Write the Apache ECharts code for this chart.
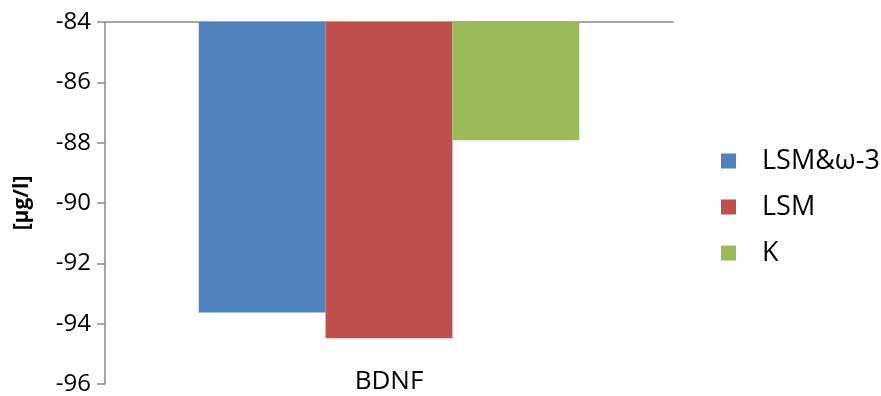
<!DOCTYPE html>
<html>
<head>
<meta charset="utf-8">
<script src="https://cdn.jsdelivr.net/npm/echarts@6/dist/echarts.min.js"></script>
<style>
  html, body { margin: 0; padding: 0; background: #fff; }
  #chart { width: 881px; height: 396px; }
</style>
</head>
<body>
<div id="chart"></div>
<script>
// BDNF change per group, in µg/l
var categories = ['BDNF'];
var seriesNames = ['LSM&ω-3', 'LSM', 'K'];
var seriesColors = ['#4F81BD', '#C0504D', '#9BBB59'];
var omega3Values = [-93.63];
var lsmValues = [-94.48];
var kValues = [-87.92];
var yTicks = { min: -96, max: -84, interval: 2 };

var seriesValues = [omega3Values, lsmValues, kValues];
var axisGray = '#898989';
var font = '"Open Sans", sans-serif';

var chart = echarts.init(document.getElementById('chart'), null, { renderer: 'canvas' });

chart.setOption({
  animation: false,
  backgroundColor: '#ffffff',
  grid: { left: 105, right: 208, top: 22, bottom: 8, containLabel: false },
  legend: {
    orient: 'vertical',
    left: 716,
    top: 141,
    itemWidth: 15,
    itemHeight: 15,
    itemGap: 16,
    icon: 'rect',
    data: seriesNames,
    textStyle: { fontFamily: font, fontSize: 27, color: '#000', lineHeight: 30, padding: [0, 0, 0, 21] }
  },
  xAxis: [
    {
      // category labels at the low end
      type: 'category',
      data: categories,
      position: 'bottom',
      offset: -15,
      axisLine: { show: false },
      axisTick: { show: false },
      axisLabel: { fontFamily: font, fontSize: 26, color: '#000', margin: 0 }
    },
    {
      // horizontal axis line crossing at the top value
      type: 'category',
      data: categories,
      position: 'top',
      axisLine: { show: true, lineStyle: { color: axisGray, width: 1.5 } },
      axisTick: { show: false },
      axisLabel: { show: false }
    }
  ],
  yAxis: {
    type: 'value',
    min: yTicks.min,
    max: yTicks.max,
    interval: yTicks.interval,
    name: '[µg/l]',
    nameLocation: 'middle',
    nameGap: 72,
    nameRotate: 90,
    nameTextStyle: { fontFamily: font, fontSize: 21, fontWeight: 'bold', color: '#000' },
    axisLine: { show: true, lineStyle: { color: axisGray, width: 1.5 } },
    axisTick: { show: true, length: 8, lineStyle: { color: axisGray, width: 1.5 } },
    splitLine: { show: false },
    axisLabel: { fontFamily: font, fontSize: 24, color: '#000', margin: 14 }
  },
  series: seriesNames.map(function (name, i) {
    return {
      name: name,
      type: 'bar',
      xAxisIndex: 0,
      data: seriesValues[i],
      barGap: '0%',
      barCategoryGap: '33%',
      clip: true,
      itemStyle: { color: seriesColors[i] }
    };
  })
});
</script>
</body>
</html>
